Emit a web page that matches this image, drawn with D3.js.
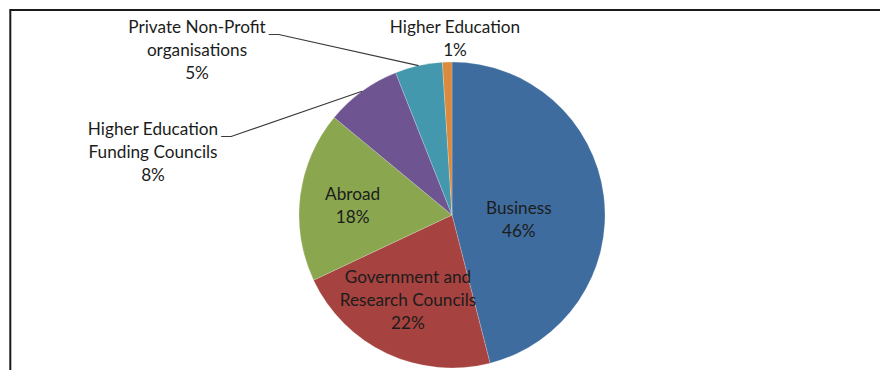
<!DOCTYPE html>
<html>
<head>
<meta charset="utf-8">
<script src="https://cdn.jsdelivr.net/npm/d3@7"></script>
<style>
  html, body { margin: 0; padding: 0; background: #ffffff; }
  svg { display: block; }
  text { font-family: Lato, "Open Sans", sans-serif; fill: #1c1c1c; }
</style>
</head>
<body>
<div id="chart"></div>
<script>
// R&D funding sources, share of total (%)
const categories = [
  "Business",
  "Government and Research Councils",
  "Abroad",
  "Higher Education Funding Councils",
  "Private Non-Profit organisations",
  "Higher Education"
];
const values = [46, 22, 18, 8, 5, 1];
const colors = ["#3e6c9f", "#a6423f", "#8aa64e", "#6e5591", "#4398ae", "#db8a3e"];
// Label text lines (value line is appended from `values`)
const labelLines = [
  ["Business"],
  ["Government and", "Research Councils"],
  ["Abroad"],
  ["Higher Education", "Funding Councils"],
  ["Private Non-Profit", "organisations"],
  ["Higher Education"]
];

const W = 880, H = 370;
const cx = 452, cy = 215, R = 153;
const lineH = 23;
const fontSize = 17.2;

const svg = d3.select("#chart").append("svg")
  .attr("width", W).attr("height", H);

// chart frame (continues past the right and bottom edges)
svg.append("rect")
  .attr("x", 10.3).attr("y", 10)
  .attr("width", W + 20).attr("height", H + 20)
  .attr("fill", "none").attr("stroke", "#1a1a1a").attr("stroke-width", 2);

const data = categories.map((c, i) => ({ name: c, value: values[i], color: colors[i], lines: labelLines[i] }));

const pie = d3.pie().value(d => d.value).sort(null);
const arcs = pie(data);
const arc = d3.arc().innerRadius(0).outerRadius(R);

const g = svg.append("g").attr("transform", `translate(${cx},${cy})`);

g.selectAll("path.slice")
  .data(arcs)
  .join("path")
  .attr("class", "slice")
  .attr("d", arc)
  .attr("fill", d => d.data.color)
  .attr("stroke", "rgba(255,255,255,0.35)")
  .attr("stroke-width", 0.6);

// label placement: inside labels sit on a centroid ring, outside ones use callouts
const layout = {
  "Business": { inside: true, k: 0.44, dx: 0, dy: 13 },
  "Government and Research Councils": { inside: true, k: 0.63, dx: -3, dy: -2.5 },
  "Abroad": { inside: true, k: 0.655, dx: 0, dy: 3 },
  "Higher Education Funding Councils": { inside: false, at: [-299, -63], leader: true },
  "Private Non-Profit organisations": { inside: false, at: [-255, -165], leader: true },
  "Higher Education": { inside: false, at: [3, -176.5], leader: false }
};

const fmt = v => v + "%";

arcs.forEach(d => {
  const L = layout[d.data.name];
  const lines = d.data.lines.concat([fmt(d.data.value)]);
  let bx, by; // block centre
  if (L.inside) {
    const r = R * L.k;
    const c = d3.arc().innerRadius(r).outerRadius(r).centroid(d);
    bx = c[0] + L.dx; by = c[1] + L.dy;
  } else {
    bx = L.at[0]; by = L.at[1];
  }
  const n = lines.length;
  const baseline = i => by + (i - (n - 1) / 2) * lineH + 6;
  const t = g.append("text")
    .attr("text-anchor", "middle")
    .attr("font-size", fontSize);
  lines.forEach((s, i) => {
    t.append("tspan")
      .attr("x", bx)
      .attr("y", baseline(i))
      .text(s);
  });

  if (L.leader) {
    // first line end -> short horizontal -> slice edge at mid-angle
    const firstY = baseline(0) + 1.5;
    const tmp = g.append("text").attr("font-size", fontSize).text(lines[0]);
    const w = tmp.node().getComputedTextLength();
    tmp.remove();
    const x0 = bx + w / 2 + 3;
    const edge = d3.arc().innerRadius(R).outerRadius(R).centroid(d);
    g.append("path")
      .attr("d", d3.line()([[x0, firstY], [x0 + 10, firstY], edge]))
      .attr("fill", "none")
      .attr("stroke", "#3a3a3a")
      .attr("stroke-width", 1.2);
  }
});
</script>
</body>
</html>
